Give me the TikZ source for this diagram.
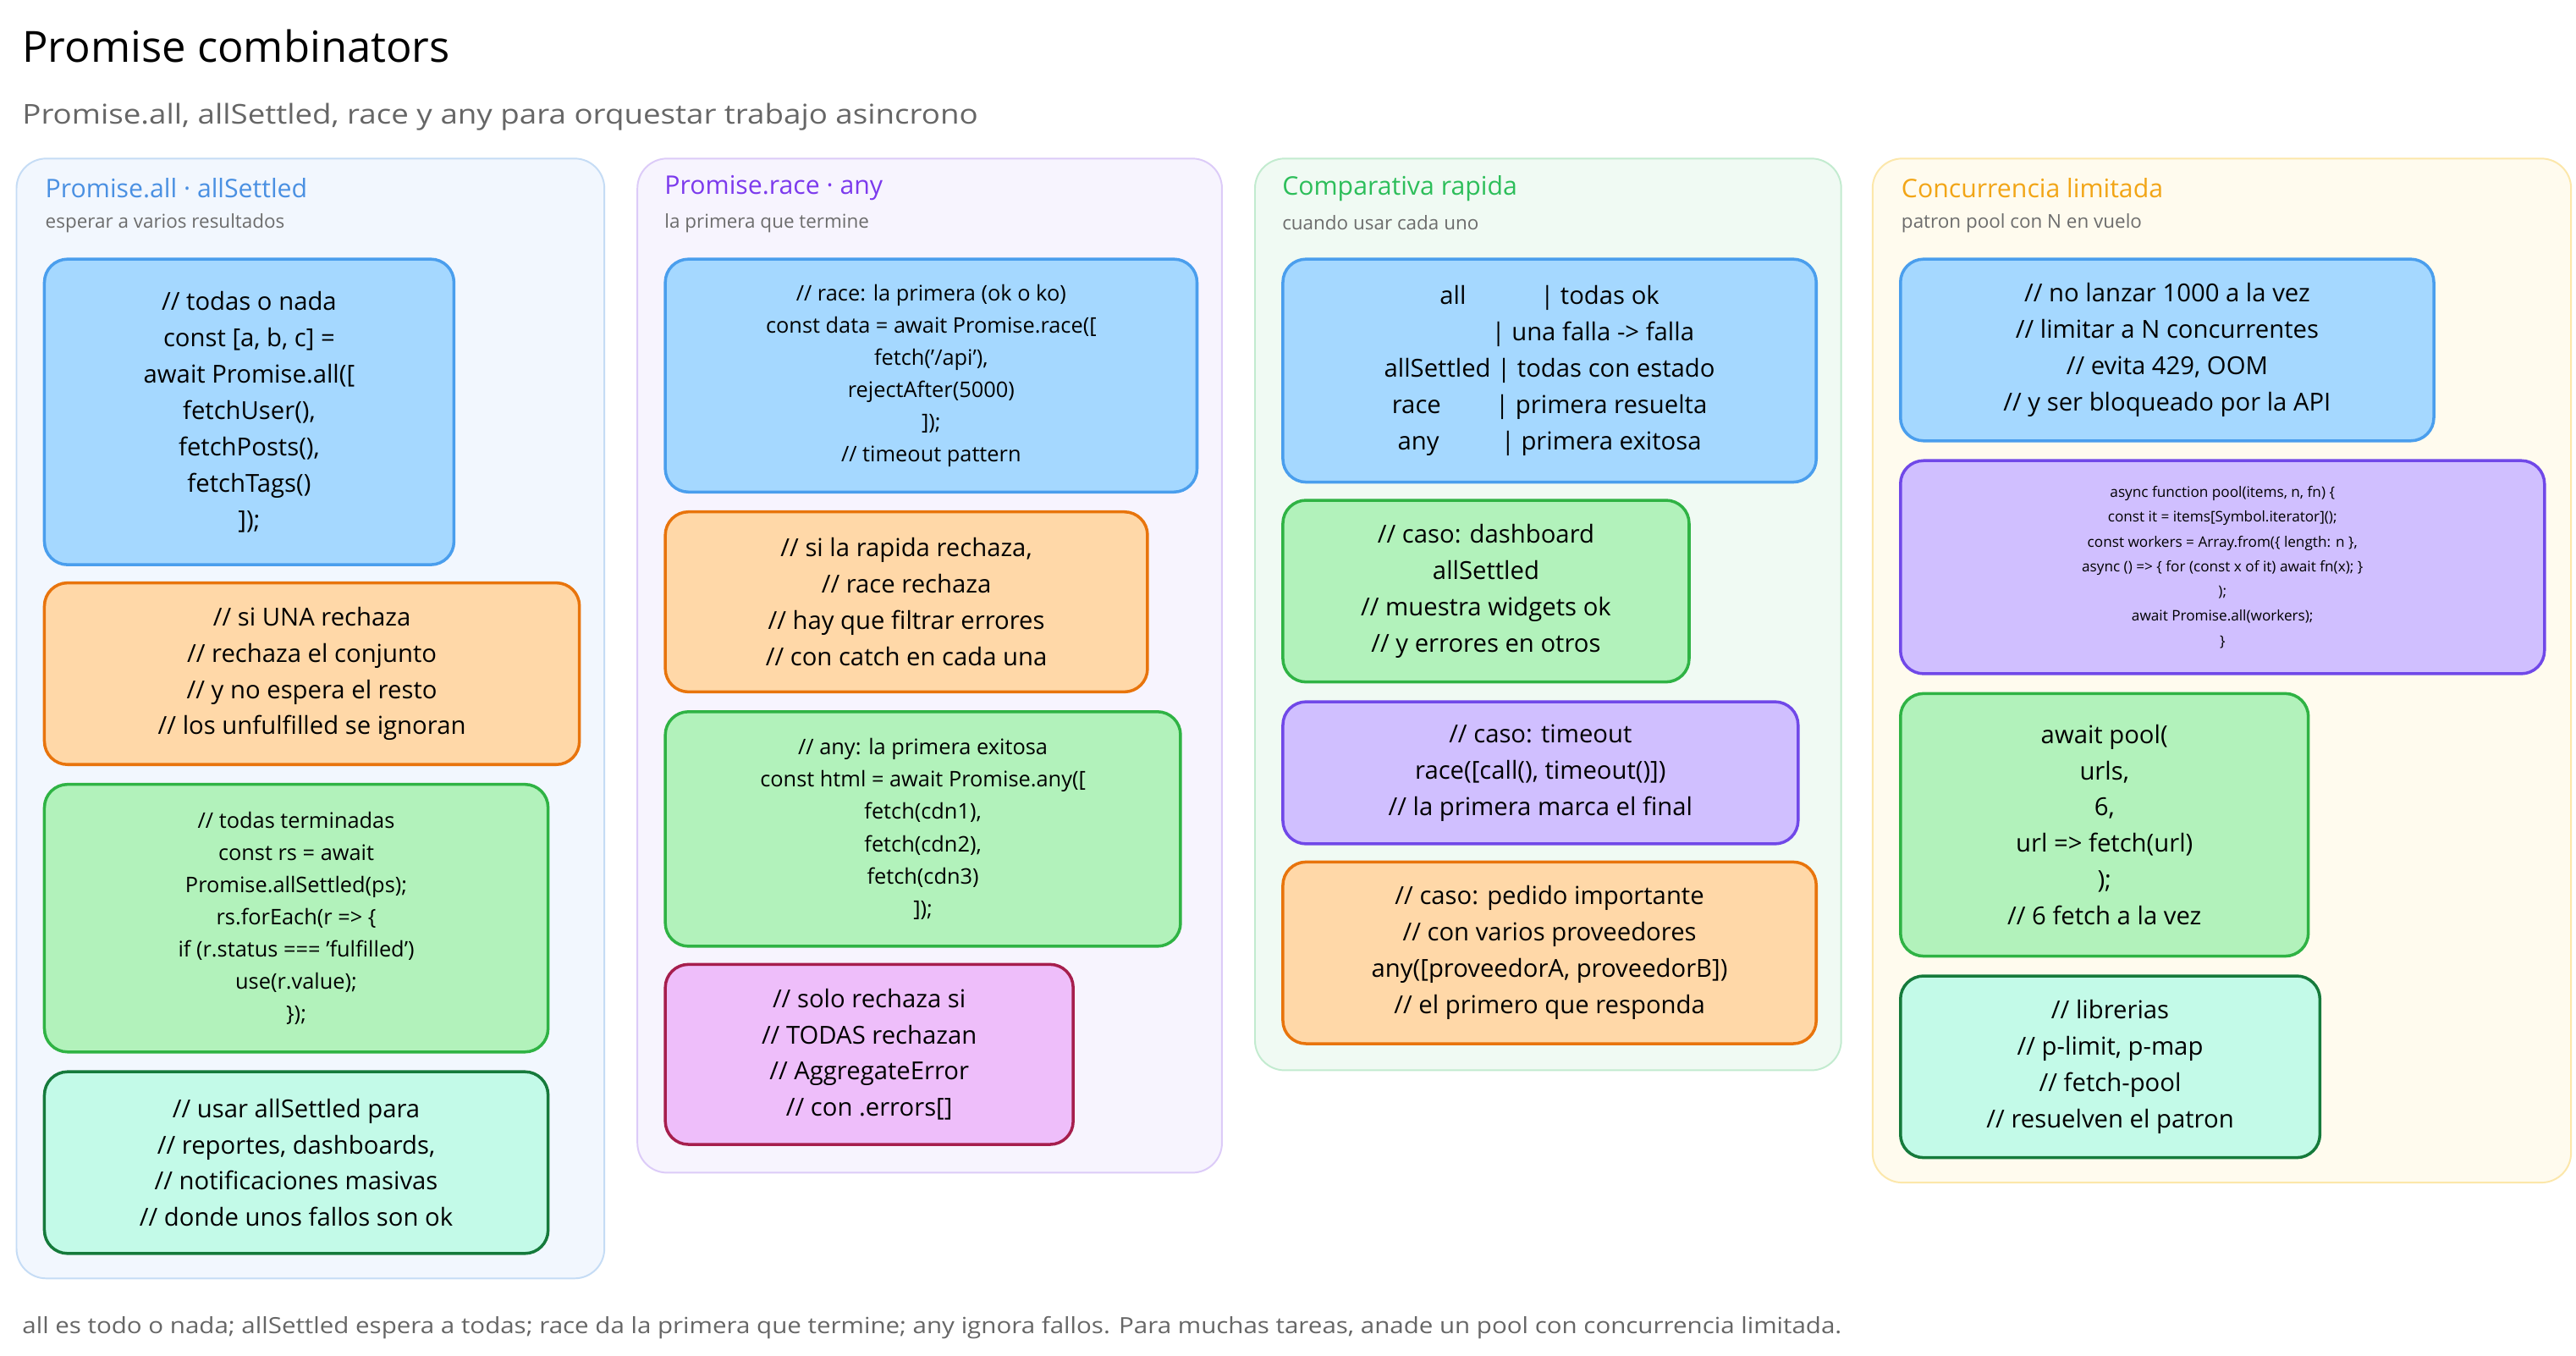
\documentclass[tikz,border=0pt]{standalone}
\usepackage{fontspec}
\setmainfont{Open Sans}
\definecolor{blueF}{HTML}{A5D8FF}\definecolor{blueD}{HTML}{4A9EED}
\definecolor{orgF}{HTML}{FFD8A8}\definecolor{orgD}{HTML}{E8740C}
\definecolor{grnF}{HTML}{B2F2BB}\definecolor{grnD}{HTML}{2FB344}
\definecolor{tealF}{HTML}{C3FAE8}\definecolor{tealD}{HTML}{157A3B}
\definecolor{pinkF}{HTML}{EEBEFA}\definecolor{pinkD}{HTML}{A61E4D}
\definecolor{purF}{HTML}{D0BFFF}\definecolor{purD}{HTML}{7048E8}
\definecolor{p1F}{HTML}{F2F7FE}\definecolor{p1D}{HTML}{C5DCF5}\definecolor{p1T}{HTML}{4A90E2}
\definecolor{p2F}{HTML}{F7F4FE}\definecolor{p2D}{HTML}{DCCBF8}\definecolor{p2T}{HTML}{7C3AED}
\definecolor{p3F}{HTML}{F0FAF3}\definecolor{p3D}{HTML}{C2EBCF}\definecolor{p3T}{HTML}{2DBE5A}
\definecolor{p4F}{HTML}{FFFBEE}\definecolor{p4D}{HTML}{FCE7AA}\definecolor{p4T}{HTML}{F2A516}
\begin{document}
\begin{tikzpicture}[x=1pt,y=-1pt,
  panel/.style={rounded corners=18, line width=1},
  box/.style={draw, rounded corners=14, line width=1.8, align=center, anchor=north west, inner sep=2pt},
  bl/.style={box, fill=blueF, draw=blueD},
  og/.style={box, fill=orgF, draw=orgD},
  gr/.style={box, fill=grnF, draw=grnD},
  tl/.style={box, fill=tealF, draw=tealD},
  pk/.style={box, fill=pinkF, draw=pinkD},
  pu/.style={box, fill=purF, draw=purD},
  ptitle/.style={anchor=west, font=\fontsize{15.5}{18}\selectfont},
  psub/.style={anchor=west, text=gray!85!black, font=\fontsize{11.5}{14}\selectfont},
  f16/.style={font=\fontsize{15}{22}\selectfont},
  f14/.style={font=\fontsize{13}{19.5}\selectfont},
  f10/.style={font=\fontsize{8.8}{15}\selectfont}]
\useasboundingbox[fill=white] (0,0) rectangle (1560,821);
\node[anchor=west, font=\fontsize{26}{30}\selectfont] (title) at (10,28) {Promise combinators};
\node[anchor=west, text=gray!80!black, font=\fontsize{16.5}{20}\selectfont] (sub) at (10,71) {\scalebox{1.14}[1]{Promise.all, allSettled, race y any para orquestar trabajo asincrono}};
\node[anchor=west, text=gray!80!black, font=\fontsize{13.5}{16}\selectfont] (foot) at (10,804) {\scalebox{1.12}[1]{all es todo o nada; allSettled espera a todas; race da la primera que termine; any ignora fallos. Para muchas tareas, anade un pool con concurrencia limitada.}};
% panels
\draw[panel, fill=p1F, draw=p1D] (10,96) rectangle (366,774);
\draw[panel, fill=p2F, draw=p2D] (386,96) rectangle (740,710);
\draw[panel, fill=p3F, draw=p3D] (760,96) rectangle (1115,648);
\draw[panel, fill=p4F, draw=p4D] (1134,96) rectangle (1557,716);
\node[ptitle, text=p1T] (t1) at (24,114) {Promise.all · allSettled};
\node[psub] (s1) at (24,135) {esperar a varios resultados};
\node[ptitle, text=p2T] (t2) at (399,114) {Promise.race · any};
\node[psub] (s2) at (399,135) {la primera que termine};
\node[ptitle, text=p3T] (t3) at (773,114) {Comparativa rapida};
\node[psub] (s3) at (773,135) {cuando usar cada uno};
\node[ptitle, text=p4T] (t4) at (1148,114) {Concurrencia limitada};
\node[psub] (s4) at (1148,135) {patron pool con N en vuelo};
% panel 1
\node[bl, f16, minimum width=248, minimum height=185] (a1) at (26,156) {// todas o nada\\const [a, b, c] =\\await Promise.all([\\fetchUser(),\\fetchPosts(),\\fetchTags()\\]);};
\node[og, f16, minimum width=324, minimum height=110] (a2) at (26,352) {// si UNA rechaza\\// rechaza el conjunto\\// y no espera el resto\\// los unfulfilled se ignoran};
\node[gr, f14, minimum width=305, minimum height=162] (a3) at (26,474) {// todas terminadas\\const rs = await\\Promise.allSettled(ps);\\rs.forEach(r => \{\\if (r.status === 'fulfilled')\\use(r.value);\\\});};
\node[tl, f16, minimum width=305, minimum height=110] (a4) at (26,648) {// usar allSettled para\\// reportes, dashboards,\\// notificaciones masivas\\// donde unos fallos son ok};
% panel 2
\node[bl, f14, minimum width=322, minimum height=141] (b1) at (402,156) {// race: la primera (ok o ko)\\const data = await Promise.race([\\fetch('/api'),\\rejectAfter(5000)\\]);\\// timeout pattern};
\node[og, f16, minimum width=292, minimum height=109] (b2) at (402,309) {// si la rapida rechaza,\\// race rechaza\\// hay que filtrar errores\\// con catch en cada una};
\node[gr, f14, minimum width=312, minimum height=142] (b3) at (402,430) {// any: la primera exitosa\\const html = await Promise.any([\\fetch(cdn1),\\fetch(cdn2),\\fetch(cdn3)\\]);};
\node[pk, f16, minimum width=247, minimum height=109] (b4) at (402,583) {// solo rechaza si\\// TODAS rechazan\\// AggregateError\\// con .errors[]};
% panel 3
\node[bl, f16, minimum width=323, minimum height=135] (c1) at (776,156) {all\hspace{3em}| todas ok\\\hspace{3.5em}| una falla -> falla\\allSettled | todas con estado\\race\hspace{2.2em}| primera resuelta\\any\hspace{2.5em}| primera exitosa};
\node[gr, f16, minimum width=246, minimum height=110] (c2) at (776,302) {// caso: dashboard\\allSettled\\// muestra widgets ok\\// y errores en otros};
\node[pu, f16, minimum width=312, minimum height=86] (c3) at (776,424) {// caso: timeout\\race([call(), timeout()])\\// la primera marca el final};
\node[og, f16, minimum width=323, minimum height=110] (c4) at (776,521) {// caso: pedido importante\\// con varios proveedores\\any([proveedorA, proveedorB])\\// el primero que responda};
% panel 4
\node[bl, f16, minimum width=323, minimum height=110] (d1) at (1150,156) {// no lanzar 1000 a la vez\\// limitar a N concurrentes\\// evita 429, OOM\\// y ser bloqueado por la API};
\node[pu, f10, minimum width=390, minimum height=129] (d2) at (1150,278) {async function pool(items, n, fn) \{\\const it = items[Symbol.iterator]();\\const workers = Array.from(\{ length: n \},\\async () => \{ for (const x of it) await fn(x); \}\\);\\await Promise.all(workers);\\\}};
\node[gr, f16, minimum width=247, minimum height=159] (d3) at (1150,419) {await pool(\\urls,\\6,\\url => fetch(url)\\);\\// 6 fetch a la vez};
\node[tl, f16, minimum width=254, minimum height=110] (d4) at (1150,590) {// librerias\\// p-limit, p-map\\// fetch-pool\\// resuelven el patron};
\end{tikzpicture}
\end{document}
